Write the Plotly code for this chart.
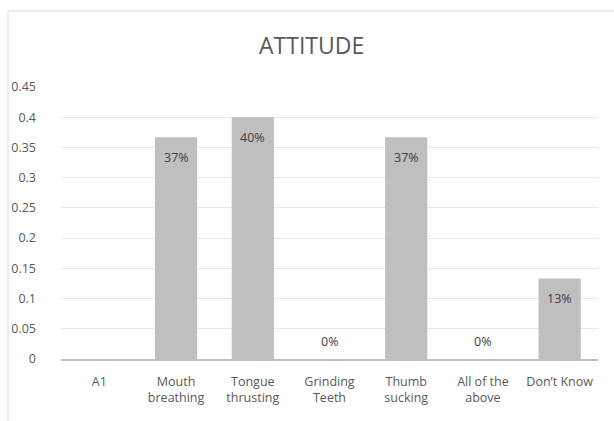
import plotly.graph_objects as go

categories = ["A1", "Mouth<br>breathing", "Tongue<br>thrusting", "Grinding<br>Teeth",
              "Thumb<br>sucking", "All of the<br>above", "Don’t Know"]
values = [None, 0.3667, 0.40, 0.0, 0.3667, 0.0, 0.1333]
labels = [None, "37%", "40%", "0%", "37%", "0%", "13%"]
y_ticks = [0, 0.05, 0.1, 0.15, 0.2, 0.25, 0.3, 0.35, 0.4, 0.45]
y_ticktext = ["0", "0.05", "0.1", "0.15", "0.2", "0.25", "0.3", "0.35", "0.4", "0.45"]

W, H = 614, 421
L, R, T, B = 61, 16, 87, 62
pw, ph = W - L - R, H - T - B

fig = go.Figure()
fig.add_trace(go.Bar(x=categories, y=values, marker=dict(color="#bfbfbf", line_width=0),
                     width=0.55, hoverinfo="skip"))

annotations = []
for c, v, t in zip(categories, values, labels):
    if v is None or t is None:
        continue
    annotations.append(dict(x=c, y=v, text=t, showarrow=False, xref="x", yref="y",
                            yshift=-20 if v > 0 else 18,
                            font=dict(size=12.5, color="#404040", family="Open Sans")))

annotations.append(dict(text="ATTITUDE", x=(311 - L) / pw, y=(H - B - 45) / ph,
                        xref="paper", yref="paper",
                        xanchor="center", yanchor="middle", showarrow=False,
                        font=dict(size=23, color="#595959", family="Open Sans")))

border = dict(type="rect", xref="paper", yref="paper",
              x0=(8 - L) / pw, x1=(W + 40 - L) / pw,
              y0=(H - B - (H + 40)) / ph, y1=(H - B - 11) / ph,
              line=dict(color="#d9d9d9", width=1), fillcolor="rgba(0,0,0,0)", layer="below")

fig.update_layout(
    width=W, height=H,
    margin=dict(l=L, r=R, t=T, b=B),
    paper_bgcolor="white", plot_bgcolor="white",
    showlegend=False,
    annotations=annotations,
    shapes=[border],
    font=dict(family="Open Sans", size=12, color="#595959"),
    xaxis=dict(showgrid=False, showline=True, linecolor="#bfbfbf", linewidth=1.5,
               ticks="", ticklabelstandoff=10,
               tickfont=dict(size=12.5, color="#595959"), fixedrange=True),
    yaxis=dict(range=[0, 0.45], tickvals=y_ticks, ticktext=y_ticktext,
               showgrid=True, gridcolor="#e8e8e8", gridwidth=1, zeroline=False,
               showline=False, ticks="", ticklabelstandoff=24,
               tickfont=dict(size=12.5, color="#595959"), fixedrange=True),
    bargap=0.45,
)

fig.write_html("out.html")
